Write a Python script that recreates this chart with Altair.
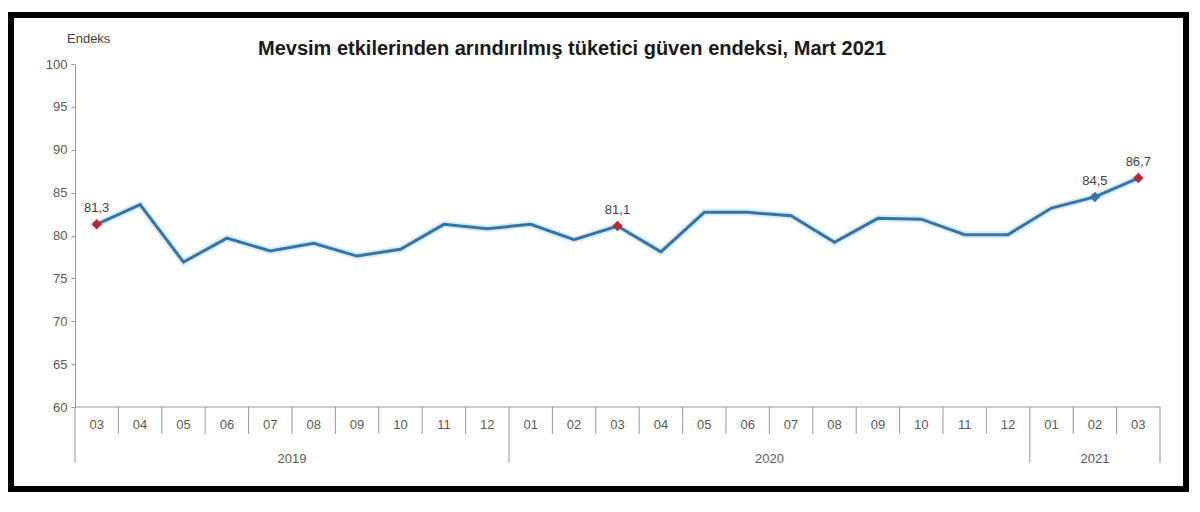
import altair as alt
import pandas as pd

# seasonally adjusted consumer confidence index, 2019-03 .. 2021-03
months = ["03", "04", "05", "06", "07", "08", "09", "10", "11", "12",
          "01", "02", "03", "04", "05", "06", "07", "08", "09", "10", "11", "12",
          "01", "02", "03"]
years = ["2019"] * 10 + ["2020"] * 12 + ["2021"] * 3
values = [81.3, 83.6, 76.9, 79.7, 78.2, 79.1, 77.6, 78.4, 81.3, 80.8,
          81.3, 79.5, 81.1, 78.1, 82.7, 82.7, 82.3, 79.2, 82.0, 81.9, 80.1, 80.1,
          83.2, 84.5, 86.7]
labelled = {0: "red", 12: "red", 23: "blue", 24: "red"}
year_names = ["2019", "2020", "2021"]

W, H = 1085, 343
LINE = "#3574a4"
RED = "#c0272d"
GRAY = "#595959"

df = pd.DataFrame({"i": range(len(values)), "month": months, "year": years, "value": values})
df["xc"] = df["i"] + 0.5
df["kind"] = df["i"].map(labelled).fillna("none")
df["label"] = df["value"].map(lambda v: f"{v:.1f}".replace(".", ","))
marked = df[df["kind"] != "none"]

# separators between months and between years
starts = [0] + [k for k in range(1, len(years)) if years[k] != years[k - 1]] + [len(years)]
month_sep = pd.DataFrame({"xc": [k for k in range(1, len(years)) if k not in starts]})
year_sep = pd.DataFrame({"xc": starts})
year_df = pd.DataFrame({
    "year": year_names,
    "xc": [(starts[n] + starts[n + 1]) / 2 for n in range(len(year_names))],
})
one = pd.DataFrame({"a": [0]})

xs = alt.Scale(domain=[0, len(values)], nice=False, zero=False)
ys = alt.Scale(domain=[60, 100], nice=False, zero=False)
X = alt.X("xc:Q", scale=xs, axis=None)
Y = alt.Y("value:Q", scale=ys)

line_glow = alt.Chart(df).mark_line(color="#a9d7f2", strokeWidth=7, opacity=0.45).encode(x=X, y=Y)

line = alt.Chart(df).mark_line(color=LINE, strokeWidth=3).encode(
    x=X,
    y=alt.Y(
        "value:Q",
        scale=ys,
        title=None,
        axis=alt.Axis(
            values=list(range(60, 101, 5)),
            grid=False,
            domainColor="#999999",
            tickColor="#999999",
            tickSize=4,
            labelColor=GRAY,
            labelFont="Liberation Sans",
            labelFontSize=13,
            labelPadding=4,
        ),
    ),
)

pts = alt.Chart(marked).mark_point(shape="diamond", filled=True, size=110, opacity=1).encode(
    x=X,
    y=Y,
    color=alt.Color("kind:N", scale=alt.Scale(domain=["red", "blue"], range=[RED, LINE]), legend=None),
)

pt_labels = alt.Chart(marked).mark_text(
    dy=-16, font="Liberation Sans", fontSize=13, color="#404040"
).encode(x=X, y=Y, text="label:N")

x_domain = alt.Chart(one).mark_rule(color="#999999", strokeWidth=1).encode(
    x=alt.value(0), x2=alt.value(W), y=alt.value(H)
)

month_rules = alt.Chart(month_sep).mark_rule(color="#999999", strokeWidth=1).encode(
    x=X, y=alt.value(H), y2=alt.value(H + 27)
)

year_rules = alt.Chart(year_sep).mark_rule(color="#999999", strokeWidth=1).encode(
    x=X, y=alt.value(H), y2=alt.value(H + 56)
)

month_text = alt.Chart(df).mark_text(font="Liberation Sans", fontSize=13, color=GRAY, baseline="middle").encode(
    x=X, y=alt.value(H + 18), text="month:N"
)

year_text = alt.Chart(year_df).mark_text(font="Liberation Sans", fontSize=13, color=GRAY, baseline="middle").encode(
    x=X, y=alt.value(H + 52), text="year:N"
)

title = alt.Chart(one).mark_text(
    text="Mevsim etkilerinden arındırılmış tüketici güven endeksi, Mart 2021",
    font="Liberation Sans", fontSize=20, fontWeight="bold", color="#1a1a1a", baseline="middle",
).encode(x=alt.value(497), y=alt.value(-15))

unit = alt.Chart(one).mark_text(
    text="Endeks", font="Liberation Sans", fontSize=13, color="#404040", align="left", baseline="middle",
).encode(x=alt.value(-8), y=alt.value(-25))

frame = alt.Chart(one).mark_rect(filled=False, stroke="black", strokeWidth=6).encode(
    x=alt.value(-64), x2=alt.value(W + 26), y=alt.value(-49), y2=alt.value(H + 82)
)

chart = alt.layer(
    x_domain, month_rules, year_rules, line_glow, line, pts, pt_labels,
    month_text, year_text, title, unit, frame,
).properties(
    width=W,
    height=H,
    padding={"left": 0, "top": 4, "right": 0, "bottom": 0},
).configure_view(stroke=None)

chart.save("out.html", embed_options={"renderer": "svg", "actions": False})
